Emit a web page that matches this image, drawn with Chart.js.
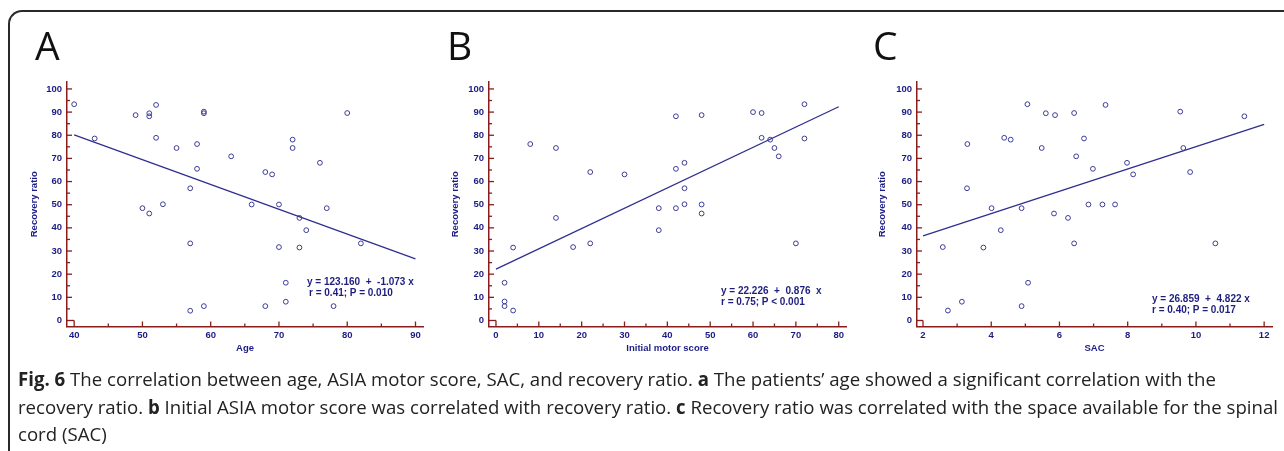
<!DOCTYPE html>
<html><head><meta charset="utf-8">
<script src="https://cdn.jsdelivr.net/npm/chart.js@4.4.1/dist/chart.umd.min.js"></script>
<style>
html,body{margin:0;padding:0;background:#fff;}
body{width:1284px;height:451px;overflow:hidden;position:relative;font-family:"Liberation Sans",Arial,sans-serif;}
#frame{position:absolute;left:8px;top:10px;width:1320px;height:480px;border-left:2px solid #2a2a2a;border-top:2px solid #2a2a2a;border-top-left-radius:14px;box-sizing:border-box;}
canvas{position:absolute;top:0;}
.letter{position:absolute;font-family:"Open Sans",sans-serif;font-size:39px;line-height:39px;color:#111;}
.eq{position:absolute;font:bold 10px "Liberation Sans",Arial,sans-serif;line-height:12px;color:#1e1e7e;white-space:pre;}
.cap{position:absolute;left:18px;font-family:"Open Sans",sans-serif;font-size:19px;line-height:28px;color:#222;white-space:nowrap;transform-origin:0 50%;}
</style></head>
<body>
<div id="frame"></div>
<canvas id="cA" width="428" height="370" style="left:0px"></canvas>
<canvas id="cB" width="428" height="370" style="left:428px"></canvas>
<canvas id="cC" width="428" height="370" style="left:856px"></canvas>
<div class="letter" style="left:35px;top:25px">A</div>
<div class="letter" style="left:447px;top:25px">B</div>
<div class="letter" style="left:873px;top:25px">C</div>
<div class="eq" style="left:307px;top:276px">y = 123.160  +  -1.073 x</div>
<div class="eq" style="left:309px;top:287px">r = 0.41; P = 0.010</div>
<div class="eq" style="left:721px;top:285px">y = 22.226  +  0.876  x</div>
<div class="eq" style="left:721px;top:296px">r = 0.75; P &lt; 0.001</div>
<div class="eq" style="left:1152px;top:293px">y = 26.859  +  4.822 x</div>
<div class="eq" style="left:1152px;top:304px">r = 0.40; P = 0.017</div>
<div class="cap" style="top:365px"><b>Fig. 6</b> The correlation between age, ASIA motor score, SAC, and recovery ratio. <b>a</b> The patients’ age showed a significant correlation with the</div>
<div class="cap" style="top:393px">recovery ratio. <b>b</b> Initial ASIA motor score was correlated with recovery ratio. <b>c</b> Recovery ratio was correlated with the space available for the spinal</div>
<div class="cap" style="top:420px">cord (SAC)</div>
<script>
// ---- data ----
const ratioTicks = [0,10,20,30,40,50,60,70,80,90,100];
const ratioMinor = [5,15,25,35,45,55,65,75,85,95];

const ageTicks = [40,50,60,70,80,90];
const ageMinor = [45,55,65,75,85];
const ageA = [40,43,49,51,51,52,52,50,51,53,55,58,58,57,57,57,59,59,59,63,66,68,69,68,70,70,71,71,72,72,73,73,74,76,77,78,80,82];
const ratioA = [93.4,78.6,88.7,89.5,88.2,93.1,78.9,48.5,46.2,50.2,74.5,76.2,65.5,57.1,33.3,4.2,90.2,89.5,6.2,70.9,50.1,64.1,63.1,6.2,50.1,31.7,16.3,8.1,78.1,74.5,44.3,31.5,39.0,68.1,48.5,6.2,89.6,33.3];
const fitAx = [40,90];
const fitAy = [80.2,26.6];

const motorTicks = [0,10,20,30,40,50,60,70,80];
const motorMinor = [5,15,25,35,45,55,65,75];
const motorB = [2,2,2,4,4,8,14,14,18,22,22,30,38,38,42,42,42,44,44,44,48,48,48,60,62,62,64,65,66,70,72,72];
const ratioB = [16.3,8.2,6.2,4.3,31.5,76.2,74.5,44.3,31.7,64.1,33.3,63.1,48.5,39.0,88.2,65.5,48.5,68.1,57.1,50.2,88.7,50.1,46.2,90.0,89.6,78.9,78.1,74.5,70.9,33.3,93.4,78.6];
const fitBx = [0,80];
const fitBy = [22.2,92.3];

const sacTicks = [2,4,6,8,10,12];
const sacMinor = [3,5,7,9,11];
const sacC = [2.58,2.73,3.14,3.30,3.29,3.77,4.01,4.28,4.38,4.57,4.89,4.89,5.06,5.08,5.48,5.60,5.84,5.87,6.25,6.43,6.43,6.49,6.72,6.85,6.98,7.26,7.35,7.63,7.98,8.16,9.54,9.63,9.83,10.57,11.42];
const ratioC = [31.7,4.3,8.1,76.2,57.1,31.5,48.5,39.0,78.9,78.1,48.5,6.2,93.4,16.3,74.5,89.5,46.2,88.7,44.3,89.6,33.3,70.9,78.6,50.1,65.5,50.1,93.1,50.1,68.1,63.1,90.2,74.5,64.1,33.3,88.2];
const fitCx = [2,12];
const fitCy = [36.5,84.7];

// ---- styles ----
const AXIS = '#8b1c1c';
const LBL = '#1c1c86';
const PT = '#3b3b96';
const LINE = '#2e2e90';
const FAM = '"Liberation Sans", Arial, sans-serif';

const inward = {
  id: 'inward',
  afterDraw(chart) {
    const o = chart.options.plugins.inward;
    const {ctx, chartArea: ca, scales: {x, y}} = chart;
    ctx.save();
    ctx.strokeStyle = AXIS;
    ctx.lineWidth = 1.3;
    const seg = (x1, y1, x2, y2) => { ctx.beginPath(); ctx.moveTo(x1, y1); ctx.lineTo(x2, y2); ctx.stroke(); };
    const x0 = x.getPixelForValue(o.xMajor[0]);
    const y0 = y.getPixelForValue(o.yMajor[0]);
    o.yMajor.forEach((v, i) => { const p = y.getPixelForValue(v); seg(ca.left, p, i === 0 ? x0 : ca.left + 5, p); });
    o.yMinor.forEach(v => { const p = y.getPixelForValue(v); seg(ca.left, p, ca.left + 3, p); });
    o.xMajor.forEach((v, i) => { const p = x.getPixelForValue(v); seg(p, ca.bottom, p, i === 0 ? y0 : ca.bottom - 5); });
    o.xMinor.forEach(v => { const p = x.getPixelForValue(v); seg(p, ca.bottom, p, ca.bottom - 3); });
    ctx.restore();
  }
};

function makeChart(id, xs, ys, fx, fy, xTicks, xMinor, xMin, xMax, xTitle, padL, yW, padR) {
  const font = {family: FAM, size: 9.5, weight: 'bold'};
  new Chart(document.getElementById(id), {
    type: 'scatter',
    data: {
      datasets: [
        {data: xs.map((v, i) => ({x: v, y: ys[i]})), pointRadius: 2.4, pointBorderWidth: 1,
         pointBorderColor: PT, pointBackgroundColor: 'rgba(0,0,0,0)', showLine: false, clip: false},
        {data: fx.map((v, i) => ({x: v, y: fy[i]})), showLine: true, borderColor: LINE, borderWidth: 1.3,
         pointRadius: 0, fill: false}
      ]
    },
    options: {
      responsive: false, animation: false, events: [],
      layout: {padding: {left: padL, right: padR, top: 82, bottom: 13.5}},
      plugins: {legend: {display: false}, tooltip: {enabled: false},
        inward: {xMajor: xTicks, xMinor: xMinor, yMajor: ratioTicks, yMinor: ratioMinor}},
      scales: {
        x: {type: 'linear', position: 'bottom', min: xMin, max: xMax,
          afterBuildTicks: s => { s.ticks = xTicks.map(v => ({value: v})); },
          afterFit: s => { s.height = 30; },
          grid: {display: false, drawTicks: false}, border: {display: true, color: AXIS, width: 1.5},
          ticks: {color: LBL, font, padding: 3, maxRotation: 0, minRotation: 0, autoSkip: false},
          title: {display: true, text: xTitle, color: LBL, font, padding: {top: 0, bottom: 2}}},
        y: {type: 'linear', position: 'left', min: -2.6, max: 103,
          afterBuildTicks: s => { s.ticks = ratioTicks.map(v => ({value: v})); },
          afterFit: s => { s.width = yW; },
          grid: {display: false, drawTicks: false}, border: {display: true, color: AXIS, width: 1.5},
          ticks: {color: LBL, font, padding: 5, autoSkip: false},
          title: {display: true, text: 'Recovery ratio', color: LBL, font, padding: {top: 0, bottom: 0}}}
      }
    },
    plugins: [inward]
  });
}

makeChart('cA', ageA, ratioA, fitAx, fitAy, ageTicks, ageMinor, 38.95, 91.1, 'Age', 29, 38, 4);
makeChart('cB', motorB, ratioB, fitBx, fitBy, motorTicks, motorMinor, -1.63, 81.7, 'Initial motor score', 21.5, 39.5, 10);
makeChart('cC', sacC, ratioC, fitCx, fitCy, sacTicks, sacMinor, 1.824, 12.23, 'SAC', 20.8, 40.2, 12);

// fit caption lines to reference width
const caps = document.querySelectorAll('.cap');
const w2 = caps[1].getBoundingClientRect().width;
const s = 1260 / w2;
caps.forEach(c => { c.style.transform = 'scaleX(' + s + ')'; });
</script>
</body></html>
